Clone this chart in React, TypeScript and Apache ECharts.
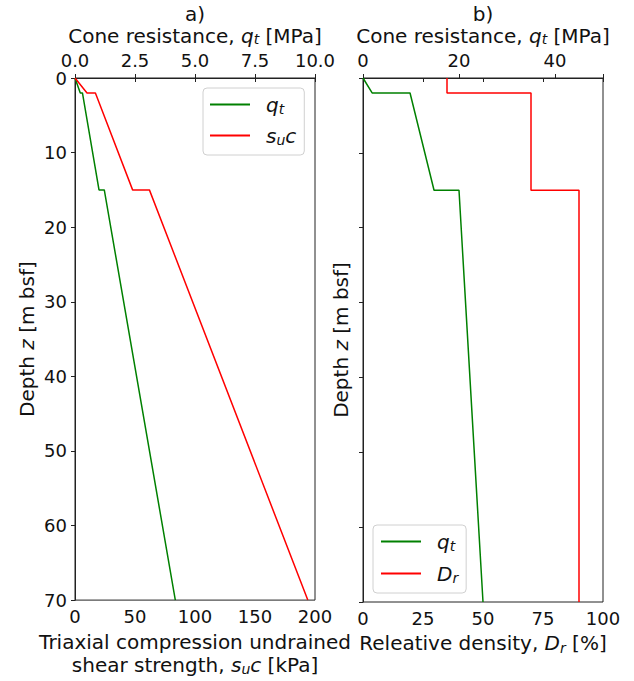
import React, { useEffect, useRef } from "react";
import * as echarts from "echarts";

// Panel a) clay profile
const depthA = [0, 2, 2, 15, 15, 70];
const qtA = [0, 0.22, 0.31, 1.0, 1.22, 4.18]; // MPa (top axis)
const suA = [0, 10, 17, 48, 62, 194]; // kPa (bottom axis)

// Panel b) sand profile
const depthB = [0, 2, 2, 15, 15, 70];
const qtB = [0, 1.9, 9.8, 14.8, 20, 25]; // MPa (top axis)
const drDepth = [0, 2, 2, 15, 15, 70];
const drB = [35, 35, 70, 70, 90, 90]; // % (bottom axis)

const FONT = "DejaVu Sans";
const TXT = "#111";
const mkRich = (lh: number) => ({
  i: { fontStyle: "italic", fontSize: 20, lineHeight: lh, fontFamily: FONT, color: TXT },
  sub: { fontStyle: "italic", fontSize: 14, lineHeight: 12 - (23 - lh) / 2, verticalAlign: "bottom", fontFamily: FONT, color: TXT },
});
const rich = mkRich(23);
const nameStyle = { fontSize: 20, lineHeight: 23, fontFamily: FONT, color: TXT, rich };
const topNameStyle = { fontSize: 20, lineHeight: 19, fontFamily: FONT, color: TXT, rich: mkRich(19) };

export default function App() {
  const ref = useRef<HTMLDivElement>(null);
  useEffect(() => {
    const chart = echarts.init(ref.current!, null, { renderer: "svg" });
    const axisLine = { show: true, lineStyle: { color: "#222", width: 1 } };
    const axisTick = { show: true, length: 4, lineStyle: { color: "#222" } };
    const label = { fontSize: 18, fontFamily: FONT, color: TXT };
    const grid = (left: number) => ({
      left, top: 78, width: 240, height: 524, show: true, borderColor: "#222", borderWidth: 1,
      backgroundColor: "transparent",
    });
    const legendBase = {
      orient: "vertical",
      itemWidth: 40,
      itemHeight: 2,
      icon: "rect",
      selectedMode: false,
      backgroundColor: "rgba(255,255,255,0.8)",
      borderColor: "#d0d0d0",
      borderWidth: 1,
      borderRadius: 4,
      textStyle: { fontSize: 20, lineHeight: 22, fontFamily: FONT, color: TXT, padding: [0, 0, 0, 11], rich },
      formatter: (n: string) =>
        n === "qtA" || n === "qtB" ? "{i|q}{sub|t}" : n === "su" ? "{i|s}{sub|u}{i|c}" : "{i|D}{sub|r}",
    };
    chart.setOption({
      animation: false,
      graphic: [
        { type: "text", x: 195, y: 14, style: { text: "a)", fontSize: 20, lineHeight: 20, fontFamily: FONT, fill: TXT, textAlign: "center", textVerticalAlign: "middle" } },
        { type: "text", x: 483, y: 14, style: { text: "b)", fontSize: 20, lineHeight: 20, fontFamily: FONT, fill: TXT, textAlign: "center", textVerticalAlign: "middle" } },
      ],
      grid: [grid(75), grid(363)],
      legend: [
        { ...legendBase, data: ["qtA", "su"], left: 203, top: 88, padding: [5, 8, 8, 7], itemGap: 8 },
        { ...legendBase, data: ["qtB", "Dr"], left: 373, top: 525, padding: [5, 8, 8, 8], itemGap: 9 },
      ],
      xAxis: [
        {
          type: "value", gridIndex: 0, position: "bottom", min: 0, max: 200, interval: 50,
          axisLine, axisTick, splitLine: { show: false }, axisLabel: { ...label, margin: 7 },
          name: "Triaxial compression undrained\nshear strength, {i|s}{sub|u}{i|c} [kPa]",
          nameLocation: "middle", nameGap: 29, nameTextStyle: nameStyle,
        },
        {
          type: "value", gridIndex: 0, position: "top", min: 0, max: 10, interval: 2.5,
          axisLine, axisTick, splitLine: { show: false },
          axisLabel: { ...label, lineHeight: 18, margin: 9, formatter: (v: number) => v.toFixed(1) },
          name: "Cone resistance, {i|q}{sub|t} [MPa]",
          nameLocation: "middle", nameGap: 26, nameTextStyle: topNameStyle,
        },
        {
          type: "value", gridIndex: 1, position: "bottom", min: 0, max: 100, interval: 25,
          axisLine, axisTick, splitLine: { show: false }, axisLabel: { ...label, margin: 7 },
          name: "Releative density, {i|D}{sub|r} [%]",
          nameLocation: "middle", nameGap: 29, nameTextStyle: nameStyle,
        },
        {
          type: "value", gridIndex: 1, position: "top", min: 0, max: 50, interval: 20,
          axisLine, axisTick, splitLine: { show: false },
          axisLabel: { ...label, lineHeight: 18, margin: 9, formatter: (v: number) => (v % 20 === 0 ? String(v) : "") },
          name: "Cone resistance, {i|q}{sub|t} [MPa]",
          nameLocation: "middle", nameGap: 26, nameTextStyle: topNameStyle,
        },
      ],
      yAxis: [
        {
          type: "value", gridIndex: 0, inverse: true, min: 0, max: 70, interval: 10,
          axisLine, axisTick, splitLine: { show: false }, axisLabel: { ...label, lineHeight: 15, margin: 8 },
          name: "Depth {i|z} [m bsf]", nameLocation: "middle", nameGap: 37, nameTextStyle: nameStyle,
        },
        {
          type: "value", gridIndex: 1, inverse: true, min: 0, max: 70, interval: 10,
          axisLine, axisTick, splitLine: { show: false }, axisLabel: { show: false },
          name: "Depth {i|z} [m bsf]", nameLocation: "middle", nameGap: 11, nameTextStyle: nameStyle,
        },
      ],
      series: [
        {
          name: "qtA", type: "line", xAxisIndex: 1, yAxisIndex: 0, showSymbol: false, symbol: "none",
          color: "#008000", lineStyle: { color: "#008000", width: 1.5 },
          data: depthA.map((d, i) => [qtA[i], d]),
        },
        {
          name: "su", type: "line", xAxisIndex: 0, yAxisIndex: 0, showSymbol: false, symbol: "none",
          color: "#ff0000", lineStyle: { color: "#ff0000", width: 1.5 },
          data: depthA.map((d, i) => [suA[i], d]),
        },
        {
          name: "qtB", type: "line", xAxisIndex: 3, yAxisIndex: 1, showSymbol: false, symbol: "none",
          color: "#008000", lineStyle: { color: "#008000", width: 1.5 },
          data: depthB.map((d, i) => [qtB[i], d]),
        },
        {
          name: "Dr", type: "line", xAxisIndex: 2, yAxisIndex: 1, showSymbol: false, symbol: "none",
          color: "#ff0000", lineStyle: { color: "#ff0000", width: 1.5 },
          data: drDepth.map((d, i) => [drB[i], d]),
        },
      ],
    });
    return () => chart.dispose();
  }, []);
  return (
    <div
      ref={ref}
      style={{ position: "fixed", left: 0, top: 0, width: 634, height: 681, background: "#fff" }}
    />
  );
}
